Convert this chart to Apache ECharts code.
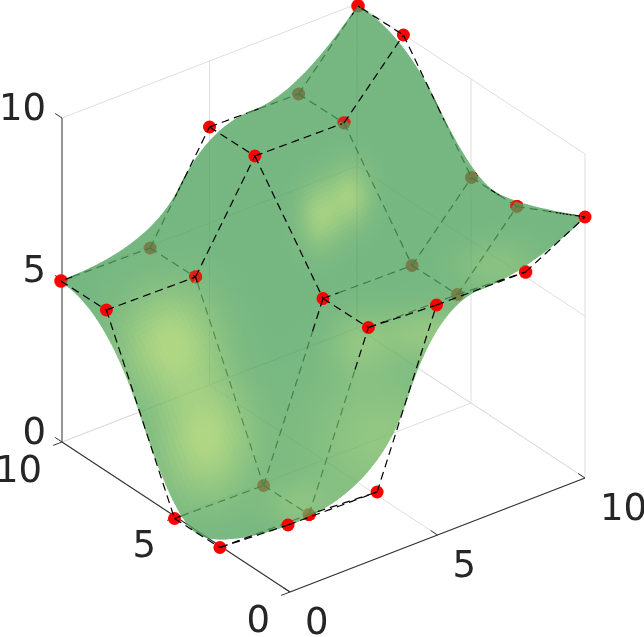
<!DOCTYPE html>
<html lang="en">
<head>
<meta charset="UTF-8">
<title>B-spline surface</title>
<script src="https://cdn.jsdelivr.net/npm/echarts@6.0.0/dist/echarts.min.js"></script>
<style>
    html, body { margin: 0; padding: 0; background: #fff; }
    #chart-container { width: 644px; height: 637px; }
</style>
</head>
<body>
<div id="chart-container"></div>
<script>
    // control net, one row per y value
    var ctrlX = [0, 3, 5, 8, 10];
    var ctrlY = [10, 8, 5, 3, 0];
    var ctrlZ = [
        [5, 5, 8, 8, 10],
        [5, 5, 8, 8, 10],
        [0, 0, 5, 5, 7],
        [0, 0, 5, 5, 7],
        [2, 2, 7, 7, 8]
    ];
    var tickValues = [0, 5, 10];

    // orthographic view fitted to the control net
    function project(x, y, z) {
        return [288 + 29.7 * x - 22.7 * y, 591 - 11 * x - 14.5 * y - 33 * z];
    }
    // the axes box sits very slightly off from the net in the picture
    function projectBox(q) {
        return [290 + 29.5 * q[0] - 22.8 * q[1], 592 - 11.4 * q[0] - 15 * q[1] - 32.4 * q[2]];
    }
    function depth(x, y, z) {
        return -749 * x - 980 * y + 680 * z;
    }

    // quadratic clamped b-spline basis, 5 control points
    var knots = [0, 0, 0, 1 / 3, 2 / 3, 1, 1, 1];
    function basis(i, p, t) {
        if (p === 0) {
            if (t === 1) return (knots[i] < 1 && knots[i + 1] === 1) ? 1 : 0;
            return (knots[i] <= t && t < knots[i + 1]) ? 1 : 0;
        }
        var a = 0, b = 0;
        if (knots[i + p] > knots[i]) a = (t - knots[i]) / (knots[i + p] - knots[i]) * basis(i, p - 1, t);
        if (knots[i + p + 1] > knots[i + 1]) b = (knots[i + p + 1] - t) / (knots[i + p + 1] - knots[i + 1]) * basis(i + 1, p - 1, t);
        return a + b;
    }
    function surfacePoint(u, v) {
        var x = 0, y = 0, z = 0;
        for (var r = 0; r < 5; r++) {
            var bv = basis(r, 2, v);
            for (var c = 0; c < 5; c++) {
                var w = basis(c, 2, u) * bv;
                x += w * ctrlX[c];
                y += w * ctrlY[r];
                z += w * ctrlZ[r][c];
            }
        }
        return [x, y, z];
    }

    var N = 100;
    var mesh = [];
    for (var i = 0; i <= N; i++) {
        mesh.push([]);
        for (var j = 0; j <= N; j++) mesh[i].push(surfacePoint(j / N, i / N));
    }

    // light patches on the surface, [cx, cy, rx, ry, strength] in view units
    var patches = [
        [170, 345, 46, 52, 1.0], [205, 440, 44, 58, 1.0],
        [320, 217, 20, 32, 0.75], [350, 197, 20, 30, 0.75],
        [380, 440, 70, 70, 0.5], [427, 333, 45, 25, 0.5],
        [497, 267, 40, 25, 0.35], [360, 343, 30, 30, 0.4], [300, 505, 35, 25, 0.35]
    ];
    function surfaceColor(p) {
        var t = 0;
        patches.forEach(function (b) {
            var dx = (p[0] - b[0]) / b[2], dy = (p[1] - b[1]) / b[3];
            t += b[4] * Math.exp(-(dx * dx + dy * dy));
        });
        t = Math.min(1, t);
        var r = Math.round(80 + (153 - 80) * t);
        var g = Math.round(163 + (204 - 163) * t);
        var bl = Math.round(95 + (97 - 95) * t);
        return 'rgb(' + r + ',' + g + ',' + bl + ')';
    }

    var quads = [];
    for (i = 0; i < N; i++) {
        for (j = 0; j < N; j++) {
            var pts = [mesh[i][j], mesh[i][j + 1], mesh[i + 1][j + 1], mesh[i + 1][j]];
            var scr = pts.map(function (q) { return project(q[0], q[1], q[2]); });
            var d = 0, cx = 0, cy = 0;
            pts.forEach(function (q, k) {
                d += depth(q[0], q[1], q[2]) / 4;
                cx += scr[k][0] / 4;
                cy += scr[k][1] / 4;
            });
            quads.push({ scr: scr, depth: d, color: surfaceColor([cx, cy]) });
        }
    }
    quads.sort(function (a, b) { return a.depth - b.depth; });

    function insideQuad(s, p) {
        var sign = 0;
        for (var k = 0; k < 4; k++) {
            var a = s[k], b = s[(k + 1) % 4];
            var c = (b[0] - a[0]) * (p[1] - a[1]) - (b[1] - a[1]) * (p[0] - a[0]);
            if (c !== 0) {
                if (sign !== 0 && (c > 0) !== (sign > 0)) return false;
                sign = c;
            }
        }
        return true;
    }
    // depth buffer of the surface, sorted quads so the nearest one wins
    var W = 644, H = 637;
    var zbuf = new Float64Array(W * H).fill(-Infinity);
    quads.forEach(function (q) {
        var xs = q.scr.map(function (s) { return s[0]; }), ys = q.scr.map(function (s) { return s[1]; });
        var x0 = Math.max(0, Math.floor(Math.min.apply(null, xs))), x1 = Math.min(W - 1, Math.ceil(Math.max.apply(null, xs)));
        var y0 = Math.max(0, Math.floor(Math.min.apply(null, ys))), y1 = Math.min(H - 1, Math.ceil(Math.max.apply(null, ys)));
        for (var py = y0; py <= y1; py++) {
            for (var px = x0; px <= x1; px++) {
                if (insideQuad(q.scr, [px + 0.5, py + 0.5])) zbuf[py * W + px] = q.depth;
            }
        }
    });
    function inFront(p, d) {
        var px = Math.floor(p[0]), py = Math.floor(p[1]);
        if (px < 0 || py < 0 || px >= W || py >= H) return true;
        return zbuf[py * W + px] <= d;
    }

    // control net: split every leg into runs in front of / behind the surface
    var hiddenRuns = [], frontRuns = [], hiddenDots = [], frontDots = [], dotPixels = [];
    var DOT_R = 6.5;
    function addLeg(a, b) {
        var STEPS = 40, run = [], state = null;
        for (var s = 0; s <= STEPS; s++) {
            var t = s / STEPS;
            var x = a[0] + (b[0] - a[0]) * t, y = a[1] + (b[1] - a[1]) * t, z = a[2] + (b[2] - a[2]) * t;
            var p = project(x, y, z);
            var vis = inFront(p, depth(x, y, z));
            if (state !== null && vis !== state) {
                (state ? frontRuns : hiddenRuns).push(run);
                run = run.slice(-1);
            }
            state = vis;
            run.push(p);
        }
        (state ? frontRuns : hiddenRuns).push(run);
    }
    function addDot(q) {
        var p = project(q[0], q[1], q[2]), d = depth(q[0], q[1], q[2]);
        var cells = [], total = 0;
        for (var dy = -7; dy <= 7; dy++) {
            for (var dx = -7; dx <= 7; dx++) {
                if (dx * dx + dy * dy > DOT_R * DOT_R) continue;
                total++;
                if (inFront([p[0] + dx, p[1] + dy], d)) cells.push([p[0] + dx - 0.5, p[1] + dy - 0.5]);
            }
        }
        if (cells.length === total) {
            frontDots.push(p);
        } else {
            hiddenDots.push(p);
            dotPixels = dotPixels.concat(cells);
        }
    }
    for (var r = 0; r < 5; r++) {
        for (var c = 0; c < 5; c++) {
            var here = [ctrlX[c], ctrlY[r], ctrlZ[r][c]];
            if (c < 4) addLeg(here, [ctrlX[c + 1], ctrlY[r], ctrlZ[r][c + 1]]);
            if (r < 4) addLeg(here, [ctrlX[c], ctrlY[r + 1], ctrlZ[r + 1][c]]);
            addDot(here);
        }
    }

    // box behind the surface
    var gridLines = [];
    tickValues.forEach(function (v) {
        gridLines.push([[v, 10, 0], [v, 10, 10]]);      // wall y=10, vertical
        gridLines.push([[10, v, 0], [10, v, 10]]);      // wall x=10, vertical
        gridLines.push([[0, 10, v], [10, 10, v]]);      // wall y=10, horizontal
        gridLines.push([[10, 0, v], [10, 10, v]]);      // wall x=10, horizontal
        gridLines.push([[v, 0, 0], [v, 10, 0]]);        // floor
        gridLines.push([[0, v, 0], [10, v, 0]]);        // floor
    });
    var TICK = 0.3;
    var mainAxes = [
        [[0, 0, 0], [10, 0, 0]],
        [[0, 0, 0], [0, 10, 0]]
    ];
    var zAxis = [[[0, 10, 0], [0, 10, 10]]];
    var tickLines = [];
    tickValues.forEach(function (v) {
        tickLines.push([[v, 0, 0], [v, TICK, 0]]);
        tickLines.push([[0, v, 0], [-TICK, v, 0]]);
        tickLines.push([[0, 10, v], [0, 10 + TICK, v]]);
    });

    var labels = [];
    tickValues.forEach(function (v) {
        var px = projectBox([v, 0, 0]), py = projectBox([0, v, 0]), pz = projectBox([0, 10, v]);
        labels.push({ text: String(v), x: px[0] + 15, y: px[1] + 32, align: 'left' });
        labels.push({ text: String(v), x: py[0] - 20, y: py[1] + 30, align: 'right' });
        labels.push({ text: String(v), x: pz[0] - 16, y: pz[1] - 8, align: 'right' });
    });

    function customBase(zlevel, count, renderItem) {
        var data = [];
        for (var k = 0; k < count; k++) data.push([k]);
        return {
            type: 'custom', coordinateSystem: 'cartesian2d', zlevel: zlevel, silent: true,
            animation: false, clip: false, progressive: 0, data: data, renderItem: renderItem
        };
    }
    function lineSeries(lines, color, width, dash, zlevel) {
        return customBase(zlevel, lines.length, function (params, api) {
            return {
                type: 'polyline',
                shape: { points: lines[params.dataIndex].map(function (q) { return api.coord(q); }) },
                style: { fill: null, stroke: color, lineWidth: width, lineDash: dash }
            };
        });
    }
    function dotSeries(dots, zlevel) {
        return customBase(zlevel, dots.length, function (params, api) {
            var p = api.coord(dots[params.dataIndex]);
            return { type: 'circle', shape: { cx: p[0], cy: p[1], r: DOT_R }, style: { fill: '#ff0000' } };
        });
    }
    function boxLines(list) {
        return list.map(function (l) { return l.map(projectBox); });
    }

    var DASH = [8, 5];
    var option = {
        animation: false,
        grid: { left: 0, top: 0, width: 644, height: 637 },
        xAxis: { type: 'value', min: 0, max: 644, show: false },
        yAxis: { type: 'value', min: 0, max: 637, inverse: true, show: false },
        series: [
            lineSeries(boxLines(gridLines), '#dedede', 1, null, 0),
            lineSeries(boxLines(mainAxes), '#333333', 1.1, null, 0),
            lineSeries(boxLines(zAxis), '#666666', 1.3, null, 0),
            lineSeries(boxLines(tickLines), '#333333', 1, null, 0),
            dotSeries(hiddenDots, 0),
            lineSeries(hiddenRuns, '#000000', 1.2, DASH, 0),
            customBase(1, quads.length, function (params, api) {
                var q = quads[params.dataIndex];
                return {
                    type: 'polygon',
                    shape: { points: q.scr.map(function (s) { return api.coord(s); }) },
                    style: { fill: q.color, stroke: q.color, lineWidth: 1.6, lineJoin: 'round' }
                };
            }),
            dotSeries(frontDots, 2),
            customBase(2, dotPixels.length, function (params, api) {
                var p = api.coord(dotPixels[params.dataIndex]);
                return { type: 'rect', shape: { x: p[0], y: p[1], width: 1.1, height: 1.1 }, style: { fill: '#ff0000' } };
            }),
            lineSeries(frontRuns, '#000000', 1.2, DASH, 2),
            customBase(2, labels.length, function (params, api) {
                var l = labels[params.dataIndex], p = api.coord([l.x, l.y]);
                return {
                    type: 'text',
                    style: {
                        text: l.text, x: p[0], y: p[1], align: l.align, verticalAlign: 'middle',
                        fill: '#262626', font: '37px "DejaVu Sans"'
                    }
                };
            })
        ]
    };

    var chart = echarts.init(document.getElementById('chart-container'));
    chart.setOption(option);
    // surface sits on its own canvas layer so the whole sheet is see-through without seams
    chart.getZr().painter.getLayer(1).dom.style.opacity = 0.78;
</script>
</body>
</html>
